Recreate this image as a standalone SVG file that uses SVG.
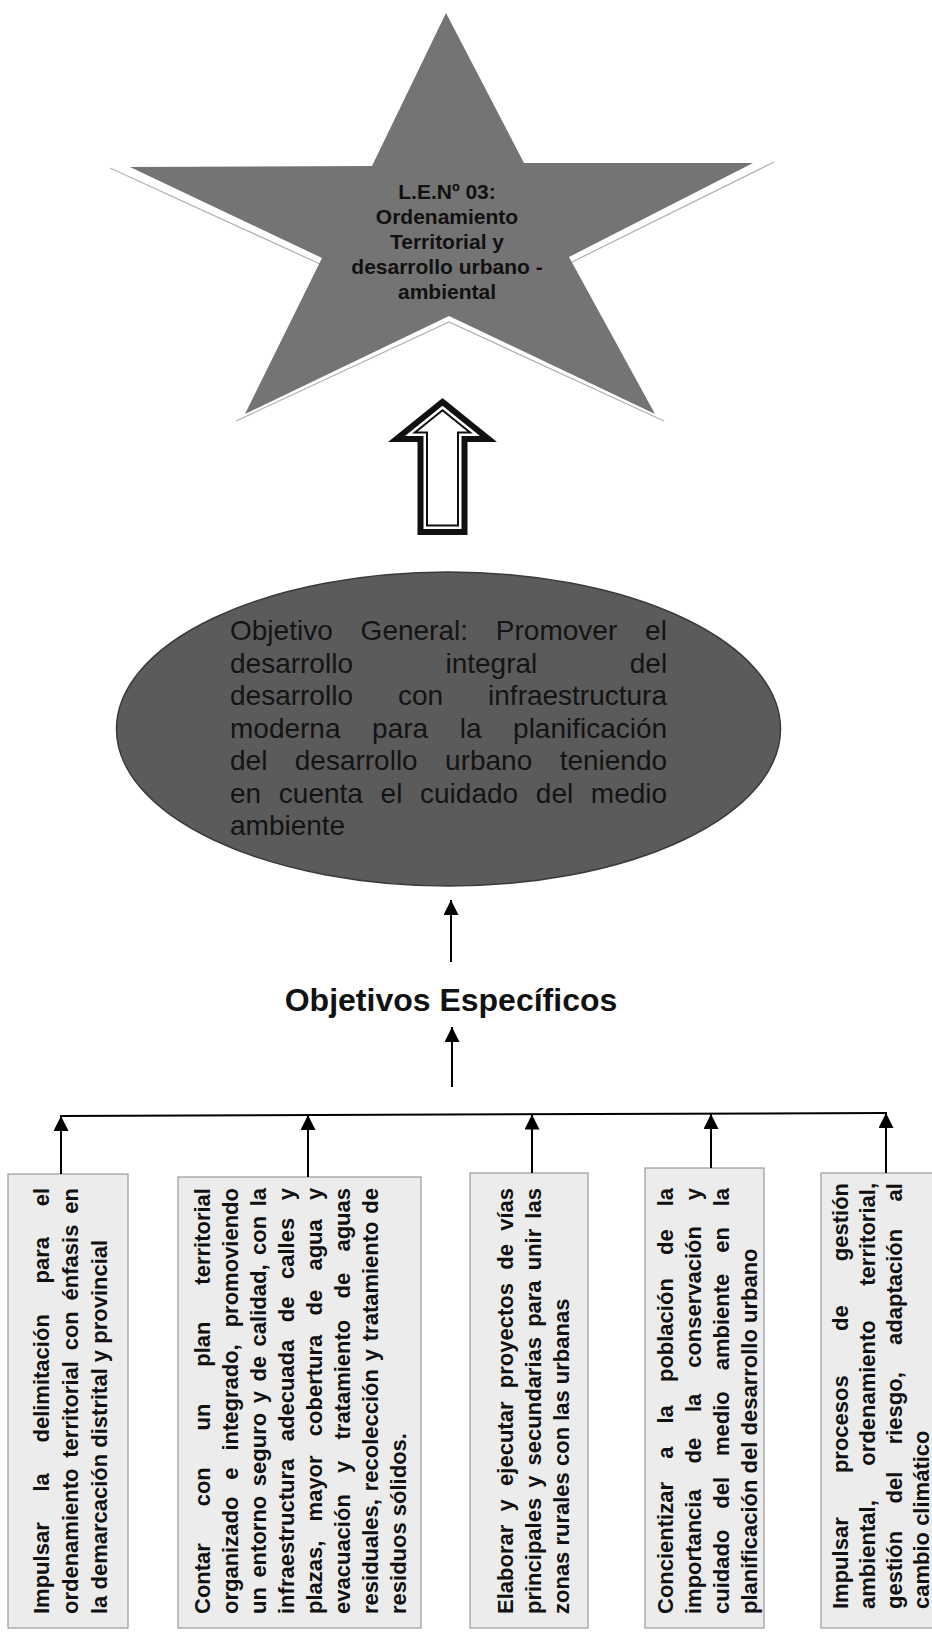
<svg xmlns="http://www.w3.org/2000/svg" width="932" height="1632" viewBox="0 0 932 1632">
<style>
.st{font-family:"Liberation Sans",Arial,sans-serif;font-weight:bold;font-size:21px;text-anchor:middle;fill:#111}
.el{font-family:"Liberation Sans",Arial,sans-serif;font-size:28px;fill:#141414}
.ob{font-family:"Liberation Sans",Arial,sans-serif;font-weight:bold;font-size:32px;text-anchor:middle;fill:#111}
.bx{font-family:"Liberation Sans",Arial,sans-serif;font-weight:bold;font-size:22px;fill:#111}
.box{fill:#ececec;stroke:#9a9a9a;stroke-width:1.2}
.con{stroke:#000;stroke-width:2;fill:none}
.hl{stroke:#b3b3b3;stroke-width:1.3;fill:none}
</style>
<defs>
<marker id="ah" viewBox="0 0 10 10" refX="10" refY="5" markerWidth="15" markerHeight="15" markerUnits="userSpaceOnUse" orient="auto">
<path d="M0,0 L10,5 L0,10 z" fill="#000"/>
</marker>
</defs>
<rect width="932" height="1632" fill="#fff"/>

<g id="star">
<polyline class="hl" points="110,168 320,264"/>
<polyline class="hl" points="774,162 572,262"/>
<polyline class="hl" points="236,421 449,322 664,421"/>
<polygon points="446,13 524,163 753,163 569,257 655,414 449,316 245,414 322,258 130,167 372,166" fill="#747474"/>
<text class="st" x="447" y="199">L.E.Nº 03:</text>
<text class="st" x="447" y="224">Ordenamiento</text>
<text class="st" x="447" y="249">Territorial y</text>
<text class="st" x="447" y="274">desarrollo urbano -</text>
<text class="st" x="447" y="299">ambiental</text>
</g>

<g id="big-arrow">
<polygon points="442.5,398 497,442 467.5,442 467.5,535 417.5,535 417.5,442 388,442" fill="#111"/>
<polygon points="442.5,405.7 480,436 461.5,436 461.5,529 423.5,529 423.5,436 405,436" fill="#fff"/>
<polygon points="442.5,410.2 470.1,432.5 458,432.5 458,525.5 427,525.5 427,432.5 414.9,432.5" fill="#fff" stroke="#111" stroke-width="2"/>
</g>

<g id="objetivo-general">
<ellipse cx="448.5" cy="729" rx="332" ry="157" fill="#5b5b5b" stroke="#3a3a3a" stroke-width="1.5"/>
<text class="el" x="230" y="640" style="word-spacing:20.1px">Objetivo General: Promover el</text>
<text class="el" x="230" y="672.5" style="word-spacing:84.7px">desarrollo integral del</text>
<text class="el" x="230" y="705" style="word-spacing:37.2px">desarrollo con infraestructura</text>
<text class="el" x="230" y="737.5" style="word-spacing:23.8px">moderna para la planificación</text>
<text class="el" x="230" y="770" style="word-spacing:19.6px">del desarrollo urbano teniendo</text>
<text class="el" x="230" y="802.5" style="word-spacing:9.9px">en cuenta el cuidado del medio</text>
<text class="el" x="230" y="835">ambiente</text>
</g>

<g id="objetivos-especificos">
<text class="ob" x="451" y="1011">Objetivos Específicos</text>
</g>

<g id="box1">
<rect class="box" x="8" y="1174" width="120" height="454"/>
<text class="bx" transform="translate(49,1614) rotate(-90)" style="word-spacing:24.6px">Impulsar la delimitación para el</text>
<text class="bx" transform="translate(78,1614) rotate(-90)" style="word-spacing:4.7px">ordenamiento territorial con énfasis en</text>
<text class="bx" transform="translate(107,1614) rotate(-90)">la demarcación distrital y provincial</text>
</g>

<g id="box2">
<rect class="box" x="178" y="1177" width="243" height="451"/>
<text class="bx" transform="translate(210,1614) rotate(-90)" style="word-spacing:30.7px">Contar con un plan territorial</text>
<text class="bx" transform="translate(238,1614) rotate(-90)" style="word-spacing:10.8px">organizado e integrado, promoviendo</text>
<text class="bx" transform="translate(266,1614) rotate(-90)" style="word-spacing:3.4px">un entorno seguro y de calidad, con la</text>
<text class="bx" transform="translate(294,1614) rotate(-90)" style="word-spacing:11.4px">infraestructura adecuada de calles y</text>
<text class="bx" transform="translate(322,1614) rotate(-90)" style="word-spacing:13.1px">plazas, mayor cobertura de agua y</text>
<text class="bx" transform="translate(350,1614) rotate(-90)" style="word-spacing:15.1px">evacuación y tratamiento de aguas</text>
<text class="bx" transform="translate(378,1614) rotate(-90)" style="word-spacing:1.65px">residuales, recolección y tratamiento de</text>
<text class="bx" transform="translate(406,1614) rotate(-90)">residuos sólidos.</text>
</g>

<g id="box3">
<rect class="box" x="470" y="1173" width="118" height="455"/>
<text class="bx" transform="translate(513,1614) rotate(-90)" style="word-spacing:7.2px">Elaborar y ejecutar proyectos de vías</text>
<text class="bx" transform="translate(541,1614) rotate(-90)" style="word-spacing:4px">principales y secundarias para unir las</text>
<text class="bx" transform="translate(569,1614) rotate(-90)">zonas rurales con las urbanas</text>
</g>

<g id="box4">
<rect class="box" x="645" y="1168" width="119" height="460"/>
<text class="bx" transform="translate(673,1614) rotate(-90)" style="word-spacing:17px">Concientizar a la población de la</text>
<text class="bx" transform="translate(701,1614) rotate(-90)" style="word-spacing:19.7px">importancia de la conservación y</text>
<text class="bx" transform="translate(729,1614) rotate(-90)" style="word-spacing:14.8px">cuidado del medio ambiente en la</text>
<text class="bx" transform="translate(757,1614) rotate(-90)">planificación del desarrollo urbano</text>
</g>

<g id="box5">
<rect class="box" x="821" y="1173" width="130" height="455"/>
<text class="bx" transform="translate(848,1609) rotate(-90)" style="word-spacing:38.1px">Impulsar procesos de gestión</text>
<text class="bx" transform="translate(875,1609) rotate(-90)" style="word-spacing:28.4px">ambiental, ordenamiento territorial,</text>
<text class="bx" transform="translate(902,1609) rotate(-90)" style="word-spacing:21.2px">gestión del riesgo, adaptación al</text>
<text class="bx" transform="translate(929,1609) rotate(-90)">cambio climático</text>
</g>

<g id="connectors">
<line class="con" x1="451" y1="962" x2="451" y2="900" marker-end="url(#ah)"/>
<line class="con" x1="452" y1="1087" x2="452" y2="1027" marker-end="url(#ah)"/>
<line class="con" x1="60" y1="1116" x2="887" y2="1113"/>
<line class="con" x1="61" y1="1174" x2="61" y2="1116" marker-end="url(#ah)"/>
<line class="con" x1="308" y1="1177" x2="308" y2="1115" marker-end="url(#ah)"/>
<line class="con" x1="532" y1="1173" x2="532" y2="1114.5" marker-end="url(#ah)"/>
<line class="con" x1="711" y1="1168" x2="711" y2="1114" marker-end="url(#ah)"/>
<line class="con" x1="886" y1="1173" x2="886" y2="1113" marker-end="url(#ah)"/>
</g>
</svg>
